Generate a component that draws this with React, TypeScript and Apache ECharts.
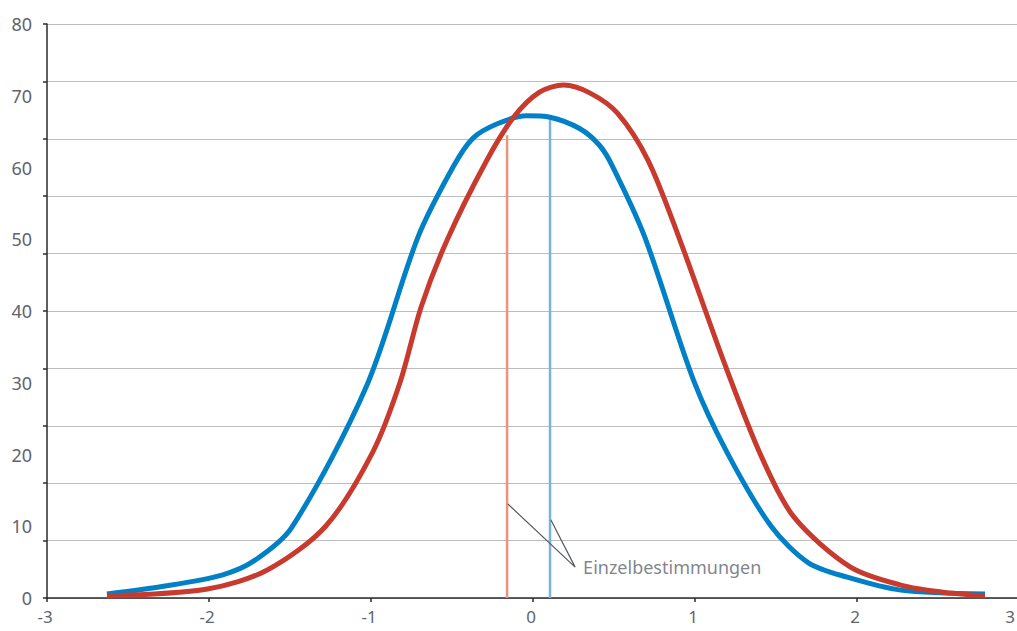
import React, { useEffect, useRef } from "react";
import * as echarts from "echarts";

const xTicks = [-3, -2, -1, 0, 1, 2, 3];
const yLabelTicks = [0, 10, 20, 30, 40, 50, 60, 70, 80];

const blueX = [-2.63, -2.29, -1.92, -1.72, -1.49, -1.03, -0.71, -0.49, -0.37, -0.22, -0.04, 0.105, 0.29, 0.41, 0.49, 0.69, 0.99, 1.2, 1.47, 1.7, 1.94, 2.27, 2.79];
const blueY = [0.56, 1.6, 3.2, 5.2, 9.8, 29.4, 50.3, 60.2, 64.1, 66.1, 67.2, 67.0, 65.4, 63.1, 60.2, 50.3, 30.4, 20.2, 10.0, 4.9, 2.9, 1.1, 0.56];

const redX = [-2.63, -2.01, -1.64, -1.28, -0.99, -0.82, -0.69, -0.53, -0.29, -0.12, 0.04, 0.19, 0.35, 0.52, 0.71, 0.9, 1.19, 1.41, 1.61, 1.96, 2.27, 2.52, 2.79];
const redY = [0.28, 1.25, 3.9, 10.0, 20.3, 30.1, 40.6, 49.9, 60.8, 67.0, 70.5, 71.5, 70.4, 67.6, 61.0, 50.3, 32.2, 19.7, 11.3, 4.3, 1.8, 0.84, 0.28];

const orangeSingleX = -0.16;
const orangeSingleTop = 64.5;
const blueSingleX = 0.105;
const blueSingleTop = 67.0;

const leaderX = [-0.155, 0.26, 0.11];
const leaderY = [13.1, 4.3, 10.9];
const annotationText = "Einzelbestimmungen";

const FONT = "Noto Sans";
const LABEL_COLOR = "#60646e";

export default function App() {
  const ref = useRef<HTMLDivElement>(null);

  useEffect(() => {
    document.body.style.margin = "0";
    if (!ref.current) return;
    const chart = echarts.init(ref.current, null, { renderer: "svg" });
    const zip = (xs: number[], ys: number[]) => xs.map((x, i) => [x, ys[i]]);

    chart.setOption({
      animation: false,
      grid: { left: 47, width: 972, top: 24, height: 574, containLabel: false, outerBoundsMode: "none" },
      xAxis: {
        type: "value",
        min: xTicks[0],
        max: xTicks[xTicks.length - 1],
        interval: 1,
        axisLine: { show: true, onZero: false, lineStyle: { color: "#2b2b2b", width: 1.5 } },
        axisTick: { show: true, length: 4, inside: false, lineStyle: { color: "#2b2b2b", width: 1.5 } },
        splitLine: { show: false },
        axisLabel: {
          color: LABEL_COLOR,
          fontSize: 17,
          fontFamily: FONT,
          margin: 10,
          alignMaxLabel: "right",
          padding: [0, 4, 0, 0],
        },
      },
      yAxis: [
        {
          type: "value",
          min: 0,
          max: 80,
          interval: 8,
          position: "left",
          axisLine: { show: true, onZero: false, lineStyle: { color: "#2b2b2b", width: 1.5 } },
          axisTick: { show: true, length: 4, lineStyle: { color: "#2b2b2b", width: 1.5 } },
          splitLine: { show: true, lineStyle: { color: "#bdbdbd", width: 1 } },
          axisLabel: { show: false },
        },
        {
          type: "value",
          min: yLabelTicks[0],
          max: yLabelTicks[yLabelTicks.length - 1],
          interval: 10,
          position: "left",
          axisLine: { show: false },
          axisTick: { show: false },
          splitLine: { show: false },
          axisLabel: { color: LABEL_COLOR, fontSize: 18, fontFamily: FONT, margin: 15 },
        },
      ],
      series: [
        {
          type: "line",
          data: [[orangeSingleX, 0], [orangeSingleX, orangeSingleTop]],
          showSymbol: false,
          lineStyle: { color: "#e8967a", width: 2.5 },
          z: 1,
        },
        {
          type: "line",
          data: [[blueSingleX, 0], [blueSingleX, blueSingleTop]],
          showSymbol: false,
          lineStyle: { color: "#7ab3e0", width: 2.5 },
          z: 1,
        },
        {
          type: "line",
          data: zip(blueX, blueY),
          showSymbol: false,
          smooth: 0.3,
          lineStyle: { color: "#0080c6", width: 5 },
          z: 3,
        },
        {
          type: "line",
          data: zip(redX, redY),
          showSymbol: false,
          smooth: 0.3,
          lineStyle: { color: "#c83a2e", width: 5 },
          z: 4,
        },
        {
          type: "line",
          data: zip(leaderX, leaderY),
          showSymbol: false,
          lineStyle: { color: "#555a60", width: 1.2 },
          z: 5,
        },
        {
          type: "scatter",
          data: [[leaderX[1], leaderY[1]]],
          symbolSize: 0,
          label: {
            show: true,
            position: "right",
            distance: 8,
            formatter: annotationText,
            color: LABEL_COLOR,
            fontSize: 18,
            fontFamily: FONT,
          },
          z: 5,
        },
      ],
    });
    return () => chart.dispose();
  }, []);

  return <div ref={ref} style={{ width: 1017, height: 631 }} />;
}
